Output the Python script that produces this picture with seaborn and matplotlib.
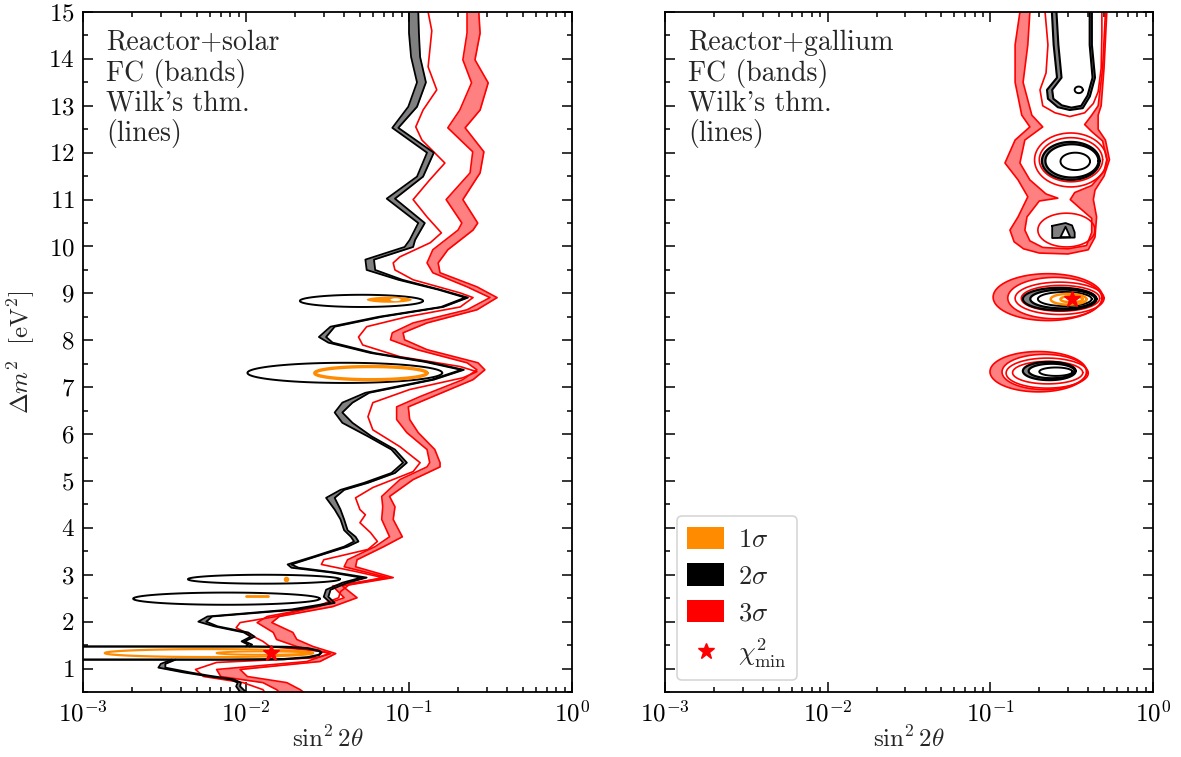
import numpy as np
import matplotlib
matplotlib.use("Agg")
import matplotlib.pyplot as plt
import seaborn as sns
from matplotlib.patches import Patch, PathPatch
from matplotlib.path import Path
from matplotlib.lines import Line2D
from matplotlib.ticker import MultipleLocator, LogLocator, NullFormatter

# ---------------- data (left panel: reactor + solar) ----------------
solar_gray_y = [15.0, 14.55, 14.04, 13.5, 12.98, 12.53, 12.0, 11.49, 11.02, 10.5, 10.14, 9.99, 9.72, 9.5,
                9.29, 9.08, 8.91, 8.71, 8.5, 8.29, 8.07, 7.95, 7.73, 7.54, 7.37, 7.16, 6.88, 6.67, 6.46,
                6.24, 5.95, 5.67, 5.39, 5.17, 4.96, 4.81, 4.64, 4.39, 4.18, 3.95, 3.81, 3.71, 3.6, 3.39,
                3.22, 3.15, 3.05, 2.94, 2.83, 2.68, 2.53, 2.4, 2.26, 2.11, 2.0, 1.9, 1.77, 1.68, 1.58,
                1.51, 1.47]
solar_gray_lo = [0.100, 0.100, 0.103, 0.112, 0.099, 0.079, 0.129, 0.112, 0.073, 0.114, 0.101, 0.094, 0.054,
                 0.055, 0.086, 0.151, 0.221, 0.157, 0.065, 0.033, 0.028, 0.032, 0.058, 0.125, 0.209, 0.137,
                 0.054, 0.039, 0.035, 0.039, 0.056, 0.078, 0.092, 0.078, 0.053, 0.038, 0.031, 0.035, 0.038,
                 0.040, 0.044, 0.046, 0.040, 0.026, 0.018, 0.019, 0.033, 0.051, 0.039, 0.031, 0.030, 0.033,
                 0.019, 0.0058, 0.0051, 0.0064, 0.0097, 0.0107, 0.0094, 0.0103, 0.0100]
solar_gray_hi = [0.114, 0.115, 0.117, 0.127, 0.112, 0.086, 0.142, 0.122, 0.082, 0.125, 0.109, 0.106, 0.061,
                 0.062, 0.091, 0.155, 0.230, 0.162, 0.068, 0.035, 0.031, 0.034, 0.061, 0.131, 0.217, 0.142,
                 0.057, 0.045, 0.039, 0.045, 0.059, 0.082, 0.097, 0.082, 0.056, 0.040, 0.035, 0.038, 0.040,
                 0.042, 0.047, 0.049, 0.042, 0.027, 0.019, 0.021, 0.035, 0.055, 0.042, 0.033, 0.032, 0.035,
                 0.021, 0.0062, 0.0057, 0.0067, 0.0103, 0.0113, 0.0098, 0.0109, 0.0105]
solar_gray2_y = [1.19, 1.10, 1.02, 0.92, 0.85, 0.77, 0.70, 0.62, 0.50]
solar_gray2_lo = [0.0035, 0.0030, 0.0029, 0.0041, 0.0055, 0.0080, 0.0089, 0.0087, 0.0092]
solar_gray2_hi = [0.0037, 0.0032, 0.0032, 0.0045, 0.0059, 0.0084, 0.0093, 0.0092, 0.0100]

solar_isl13_x = [0.0005, 0.0103, 0.018, 0.024, 0.028, 0.029, 0.028, 0.024, 0.017, 0.008, 0.0005]
solar_isl13_y = [1.47, 1.47, 1.46, 1.43, 1.38, 1.34, 1.29, 1.24, 1.20, 1.19, 1.19]

solar_red_y = [15.0, 14.6, 13.83, 13.34, 12.91, 12.55, 12.27, 11.78, 11.42, 11.0, 10.63, 10.29, 10.08, 9.78,
               9.65, 9.5, 9.29, 9.01, 8.91, 8.71, 8.5, 8.29, 8.07, 7.9, 7.65, 7.44, 7.33, 7.2, 6.95, 6.67,
               6.37, 6.09, 5.73, 5.39, 5.2, 4.86, 4.64, 4.39, 4.28, 4.11, 3.9, 3.71, 3.54, 3.32, 3.22, 3.07,
               2.94, 2.79, 2.64, 2.51, 2.32, 2.11, 1.98, 1.87, 1.72, 1.58, 1.47, 1.36, 1.32, 1.23, 1.13,
               0.98, 0.83, 0.70, 0.55, 0.50]
solar_red_x = [0.131, 0.138, 0.131, 0.148, 0.122, 0.110, 0.120, 0.166, 0.134, 0.106, 0.129, 0.158, 0.135,
               0.088, 0.080, 0.082, 0.106, 0.206, 0.247, 0.206, 0.097, 0.055, 0.049, 0.052, 0.088, 0.206,
               0.261, 0.214, 0.101, 0.060, 0.056, 0.060, 0.088, 0.117, 0.106, 0.060, 0.047, 0.050, 0.054,
               0.050, 0.058, 0.064, 0.056, 0.030, 0.029, 0.047, 0.069, 0.043, 0.038, 0.037, 0.027, 0.0153,
               0.0092, 0.0087, 0.0106, 0.0127, 0.014, 0.030, 0.033, 0.027, 0.0066, 0.0049, 0.0055, 0.0096,
               0.0127, 0.013]

solar_band_y = [15.0, 14.55, 13.98, 13.49, 12.91, 12.53, 12.02, 11.57, 11.0, 10.5, 10.35, 9.93, 9.65, 9.44,
                9.14, 8.91, 8.65, 8.37, 8.16, 8.01, 7.80, 7.52, 7.37, 7.16, 6.80, 6.58, 6.31, 6.03, 5.67,
                5.39, 5.30, 5.03, 4.67, 4.45, 4.18, 3.81, 3.60, 3.32, 3.17, 2.94, 2.76, 2.51, 2.32, 2.11,
                1.98, 1.77, 1.62, 1.47, 1.32, 1.15, 0.98, 0.83, 0.70, 0.55, 0.50]
solar_band_lo = [0.227, 0.227, 0.214, 0.242, 0.205, 0.173, 0.246, 0.237, 0.169, 0.211, 0.200, 0.140, 0.129,
                 0.140, 0.227, 0.314, 0.227, 0.106, 0.079, 0.077, 0.112, 0.227, 0.261, 0.214, 0.117, 0.084,
                 0.084, 0.097, 0.129, 0.134, 0.129, 0.088, 0.068, 0.069, 0.068, 0.076, 0.062, 0.042, 0.040,
                 0.074, 0.034, 0.040, 0.028, 0.0135, 0.0117, 0.0147, 0.0154, 0.0205, 0.0328, 0.0236,
                 0.0066, 0.0070, 0.0127, 0.0154, 0.0160]
solar_band_hi = [0.268, 0.273, 0.254, 0.306, 0.273, 0.221, 0.288, 0.273, 0.214, 0.264, 0.247, 0.173, 0.151,
                 0.155, 0.261, 0.347, 0.261, 0.129, 0.092, 0.094, 0.129, 0.265, 0.292, 0.247, 0.140, 0.099,
                 0.101, 0.114, 0.144, 0.155, 0.155, 0.106, 0.076, 0.082, 0.080, 0.091, 0.070, 0.048, 0.047,
                 0.080, 0.039, 0.048, 0.034, 0.016, 0.0144, 0.0194, 0.0205, 0.0258, 0.0355, 0.0284,
                 0.0092, 0.0102, 0.0178, 0.0215, 0.0225]

# islands: (x_lo, x_hi, y_lo, y_hi)
solar_black_islands = [(0.0214, 0.122, 8.71, 8.97), (0.0102, 0.160, 7.09, 7.52),
                       (0.0044, 0.0377, 2.81, 3.00), (0.00203, 0.0284, 2.36, 2.62)]
solar_orange_rings = [(0.0264, 0.129, 7.16, 7.44), (0.00136, 0.0258, 1.245, 1.415), (0.0066, 0.0243, 1.295, 1.365)]
solar_orange_fill = (0.055, 0.104, 8.80, 8.93)
solar_orange_hole = (0.077, 0.089, 8.835, 8.895)
solar_orange_dot = (0.0176, 2.92)
solar_orange_dash_x = [0.0100, 0.0136]
solar_orange_dash_y = [2.54, 2.54]
solar_best = (0.0142, 1.33)

# ---------------- data (right panel: reactor + gallium) ----------------
gal_fc3_out_x = [0.152, 0.152, 0.142, 0.142, 0.156, 0.175, 0.142, 0.123, 0.148, 0.170, 0.148, 0.132, 0.140,
                 0.160, 0.200, 0.300, 0.400, 0.440, 0.450, 0.430, 0.440, 0.500, 0.540, 0.510, 0.460, 0.460,
                 0.480, 0.500, 0.520, 0.520]
gal_fc3_out_y = [15.5, 15.0, 14.3, 13.5, 12.8, 12.55, 12.27, 11.78, 11.42, 11.06, 10.63, 10.35, 10.1, 9.95,
                 9.86, 9.84, 9.93, 10.2, 10.63, 11.0, 11.2, 11.5, 11.85, 12.27, 12.5, 12.8, 13.0, 13.8,
                 15.0, 15.5]
gal_fc3_in_x = [0.175, 0.175, 0.170, 0.159, 0.180, 0.210, 0.163, 0.152, 0.175, 0.220, 0.260, 0.200, 0.168,
                0.163, 0.175, 0.210, 0.300, 0.390, 0.420, 0.420, 0.360, 0.310, 0.330, 0.420, 0.500, 0.520,
                0.490, 0.420, 0.380, 0.420, 0.460, 0.490, 0.510, 0.510]
gal_fc3_in_y = [15.5, 15.0, 14.3, 13.5, 12.8, 12.55, 12.27, 11.78, 11.42, 11.12, 11.03, 10.97, 10.63, 10.35,
                10.12, 9.98, 9.95, 10.02, 10.3, 10.6, 10.8, 11.0, 11.15, 11.3, 11.6, 11.85, 12.25, 12.45,
                12.6, 12.8, 13.0, 13.8, 15.0, 15.5]
gal_red_top_x = [0.217, 0.217, 0.226, 0.220, 0.202, 0.210, 0.250, 0.308, 0.380, 0.430, 0.460, 0.480, 0.485, 0.485]
gal_red_top_y = [15.5, 15.0, 14.3, 13.7, 13.34, 13.0, 12.85, 12.77, 12.85, 13.05, 13.3, 13.8, 14.5, 15.5]
gal_blk_top_out_x = [0.239, 0.239, 0.245, 0.257, 0.223, 0.226, 0.260, 0.308, 0.370, 0.409, 0.440, 0.421, 0.421, 0.421]
gal_blk_top_out_y = [15.5, 15.0, 14.3, 13.6, 13.34, 13.15, 12.97, 12.91, 12.95, 13.2, 13.6, 14.3, 15.0, 15.5]
gal_blk_top_in_x = [0.255, 0.255, 0.262, 0.274, 0.240, 0.244, 0.275, 0.315, 0.362, 0.396, 0.425, 0.408, 0.408, 0.408]
gal_blk_top_in_y = [15.5, 15.0, 14.3, 13.6, 13.34, 13.15, 13.01, 12.96, 13.0, 13.22, 13.6, 14.3, 15.0, 15.5]
gal_blk_isl_x = [0.240, 0.290, 0.318, 0.330, 0.330, 0.240, 0.240]
gal_blk_isl_y = [10.44, 10.50, 10.45, 10.30, 10.19, 10.18, 10.44]
gal_blk_hole_x = [0.270, 0.310, 0.290, 0.270]
gal_blk_hole_y = [10.20, 10.20, 10.42, 10.20]

# ellipse-like islands (x_lo, x_hi, y_lo, y_hi)
gal_red_fc_out = [(0.104, 0.49, 8.42, 9.42), (0.0995, 0.392, 6.90, 7.76)]
gal_red_fc_in = [(0.128, 0.485, 8.46, 9.34), (0.118, 0.390, 6.95, 7.70)]
gal_red_lines = [(0.187, 0.52, 11.27, 12.42), (0.20, 0.49, 11.38, 12.32), (0.196, 0.44, 9.99, 10.71),
                 (0.142, 0.50, 8.55, 9.24), (0.155, 0.47, 8.62, 9.17),
                 (0.125, 0.40, 6.98, 7.62), (0.137, 0.37, 7.07, 7.55)]
gal_blk_out = [(0.2075, 0.47, 11.42, 12.23), (0.1585, 0.45, 8.64, 9.12), (0.1585, 0.335, 7.15, 7.54)]
gal_blk_in = [(0.218, 0.462, 11.47, 12.18), (0.176, 0.44, 8.68, 9.08), (0.172, 0.330, 7.19, 7.50)]
gal_blk_lines = [(0.27, 0.41, 11.63, 12.0), (0.33, 0.37, 13.27, 13.41), (0.20, 0.32, 7.24, 7.42),
                 (0.196, 0.42, 8.73, 9.03)]
gal_orange_rings = [(0.235, 0.39, 8.76, 8.99), (0.27, 0.37, 8.81, 8.94)]
gal_best = (0.318, 8.87)

legend_labels = [r"$1\sigma$", r"$2\sigma$", r"$3\sigma$", r"$\chi^2_{\rm min}$"]

# ---------------- style ----------------
ORANGE = "#ff8c00"
RED = "#ff0000"
BAND_RED = "#ff8080"
GRAY = "#808080"

sns.set_theme(style="ticks")
plt.rcParams.update({
    "font.family": "serif",
    "font.serif": ["cmr10"],
    "mathtext.fontset": "cm",
    "axes.formatter.use_mathtext": True,
    "axes.unicode_minus": False,
    "font.size": 18,
})


def ell(box, n=90):
    xlo, xhi, ylo, yhi = box
    t = np.linspace(0, 2 * np.pi, n)
    lc = (np.log10(xlo) + np.log10(xhi)) / 2
    lr = (np.log10(xhi) - np.log10(xlo)) / 2
    return 10 ** (lc + lr * np.cos(t)), (ylo + yhi) / 2 + (yhi - ylo) / 2 * np.sin(t)


def sline(ax, x, y, color, lw):
    sns.lineplot(x=list(x), y=list(y), sort=False, estimator=None, ax=ax, color=color,
                 linewidth=lw, legend=False)


def ring_fill(ax, ox, oy, ix, iy, color):
    ox, oy, ix, iy = map(np.asarray, (ox, oy, ix, iy))
    verts = np.concatenate([np.column_stack([ox, oy]), np.column_stack([ix[::-1], iy[::-1]])])
    codes = ([Path.MOVETO] + [Path.LINETO] * (len(ox) - 1) +
             [Path.MOVETO] + [Path.LINETO] * (len(ix) - 1))
    ax.add_patch(PathPatch(Path(verts, codes), facecolor=color, edgecolor="none", zorder=1))


fig = plt.figure(figsize=(11.81, 7.57), dpi=100)
ax1 = fig.add_axes([83 / 1181, 1 - 692 / 757, 489 / 1181, 680 / 757])
ax2 = fig.add_axes([665 / 1181, 1 - 692 / 757, 488 / 1181, 680 / 757])
for ax in (ax1, ax2):
    ax.set_xscale("log")
    ax.set_xlim(1e-3, 1)
    ax.set_ylim(0.5, 15)

# ---------------- left panel ----------------
ax1.fill_betweenx(solar_band_y, solar_band_lo, solar_band_hi, color=BAND_RED, lw=0, zorder=1)
sline(ax1, solar_band_lo, solar_band_y, RED, 1.2)
sline(ax1, solar_band_hi, solar_band_y, RED, 1.2)
sline(ax1, solar_red_x, solar_red_y, RED, 1.2)

ax1.fill_betweenx(solar_gray_y, solar_gray_lo, solar_gray_hi, color=GRAY, lw=0, zorder=1)
ax1.fill_betweenx(solar_gray2_y, solar_gray2_lo, solar_gray2_hi, color=GRAY, lw=0, zorder=1)
for xs, ys in ((solar_gray_lo, solar_gray_y), (solar_gray_hi, solar_gray_y),
               (solar_gray2_lo, solar_gray2_y), (solar_gray2_hi, solar_gray2_y)):
    sline(ax1, xs, ys, "black", 1.3)
sline(ax1, solar_isl13_x, solar_isl13_y, "black", 1.7)
for box in solar_black_islands:
    ex, ey = ell(box)
    sline(ax1, ex, ey, "black", 1.4)

ex, ey = ell(solar_orange_fill)
ax1.fill(ex, ey, color=ORANGE, lw=0, zorder=2)
ex, ey = ell(solar_orange_hole)
ax1.fill(ex, ey, color="white", lw=0, zorder=2)
for box, lw in zip(solar_orange_rings, (2.4, 1.6, 1.4)):
    ex, ey = ell(box)
    sline(ax1, ex, ey, ORANGE, lw)
sline(ax1, solar_orange_dash_x, solar_orange_dash_y, ORANGE, 2.0)
ax1.plot([solar_orange_dot[0]], [solar_orange_dot[1]], "o", color=ORANGE, ms=3, zorder=4)
ax1.plot([solar_best[0]], [solar_best[1]], marker="*", color=RED, ms=12, ls="none", zorder=5)

# ---------------- right panel ----------------
ring_fill(ax2, gal_fc3_out_x, gal_fc3_out_y, gal_fc3_in_x, gal_fc3_in_y, BAND_RED)
sline(ax2, gal_fc3_out_x, gal_fc3_out_y, RED, 1.2)
sline(ax2, gal_fc3_in_x, gal_fc3_in_y, RED, 1.2)
for bo, bi in zip(gal_red_fc_out, gal_red_fc_in):
    ox, oy = ell(bo)
    ix, iy = ell(bi)
    ring_fill(ax2, ox, oy, ix, iy, BAND_RED)
    sline(ax2, ox, oy, RED, 1.2)
    sline(ax2, ix, iy, RED, 1.2)
sline(ax2, gal_red_top_x, gal_red_top_y, RED, 1.2)
for box in gal_red_lines:
    ex, ey = ell(box)
    sline(ax2, ex, ey, RED, 1.2)

ring_fill(ax2, gal_blk_top_out_x, gal_blk_top_out_y, gal_blk_top_in_x, gal_blk_top_in_y, GRAY)
sline(ax2, gal_blk_top_out_x, gal_blk_top_out_y, "black", 1.5)
sline(ax2, gal_blk_top_in_x, gal_blk_top_in_y, "black", 1.5)
for bo, bi in zip(gal_blk_out, gal_blk_in):
    ox, oy = ell(bo)
    ix, iy = ell(bi)
    ring_fill(ax2, ox, oy, ix, iy, GRAY)
    sline(ax2, ox, oy, "black", 1.6)
    sline(ax2, ix, iy, "black", 1.6)
for box in gal_blk_lines:
    ex, ey = ell(box)
    sline(ax2, ex, ey, "black", 1.4)
ax2.fill(gal_blk_isl_x, gal_blk_isl_y, color=GRAY, lw=0, zorder=2)
ax2.fill(gal_blk_hole_x, gal_blk_hole_y, color="white", lw=0, zorder=2)
sline(ax2, gal_blk_isl_x, gal_blk_isl_y, "black", 1.3)
sline(ax2, gal_blk_hole_x, gal_blk_hole_y, "black", 1.3)
for box in gal_orange_rings:
    ex, ey = ell(box)
    sline(ax2, ex, ey, ORANGE, 1.8)
ax2.plot([gal_best[0]], [gal_best[1]], marker="*", color=RED, ms=12, ls="none", zorder=5)

# ---------------- axes styling ----------------
for ax in (ax1, ax2):
    ax.xaxis.set_major_locator(LogLocator(base=10, numticks=10))
    ax.xaxis.set_minor_locator(LogLocator(base=10, subs=np.arange(2, 10), numticks=20))
    ax.xaxis.set_minor_formatter(NullFormatter())
    ax.yaxis.set_major_locator(MultipleLocator(1))
    ax.yaxis.set_minor_locator(MultipleLocator(0.5))
    ax.tick_params(which="both", direction="in", top=True, right=True, width=1.1, colors="black")
    ax.tick_params(which="major", length=7, labelsize=18, pad=6)
    ax.tick_params(which="minor", length=3.5)
    for s in ax.spines.values():
        s.set_linewidth(1.3)
        s.set_color("black")
    ax.set_xlabel(r"$\sin^2 2\theta$", fontsize=18, labelpad=0)

ax1.set_ylabel(r"$\Delta m^2\ \ [\mathrm{eV}^2]$", fontsize=18, labelpad=8)
ax2.tick_params(labelleft=False)
ax2.set_ylabel("")

ax1.text(0.048, 0.974, "Reactor+solar\nFC (bands)\nWilk's thm.\n(lines)", transform=ax1.transAxes,
         ha="left", va="top", fontsize=20, linespacing=1.12)
ax2.text(0.048, 0.974, "Reactor+gallium\nFC (bands)\nWilk's thm.\n(lines)", transform=ax2.transAxes,
         ha="left", va="top", fontsize=20, linespacing=1.12)

handles = [Patch(facecolor=ORANGE, edgecolor="none"),
           Patch(facecolor="black", edgecolor="none"),
           Patch(facecolor=RED, edgecolor="none"),
           Line2D([], [], marker="*", color=RED, ls="none", ms=12)]
leg = ax2.legend(handles, legend_labels, loc="lower left", fontsize=19, frameon=True, fancybox=True,
                 borderaxespad=0.45, handlelength=1.4, handleheight=0.95, labelspacing=0.42,
                 handletextpad=0.5, borderpad=0.4)
leg.get_frame().set_edgecolor("#cccccc")
leg.get_frame().set_linewidth(1.2)

fig.savefig("out.png", dpi=100)
